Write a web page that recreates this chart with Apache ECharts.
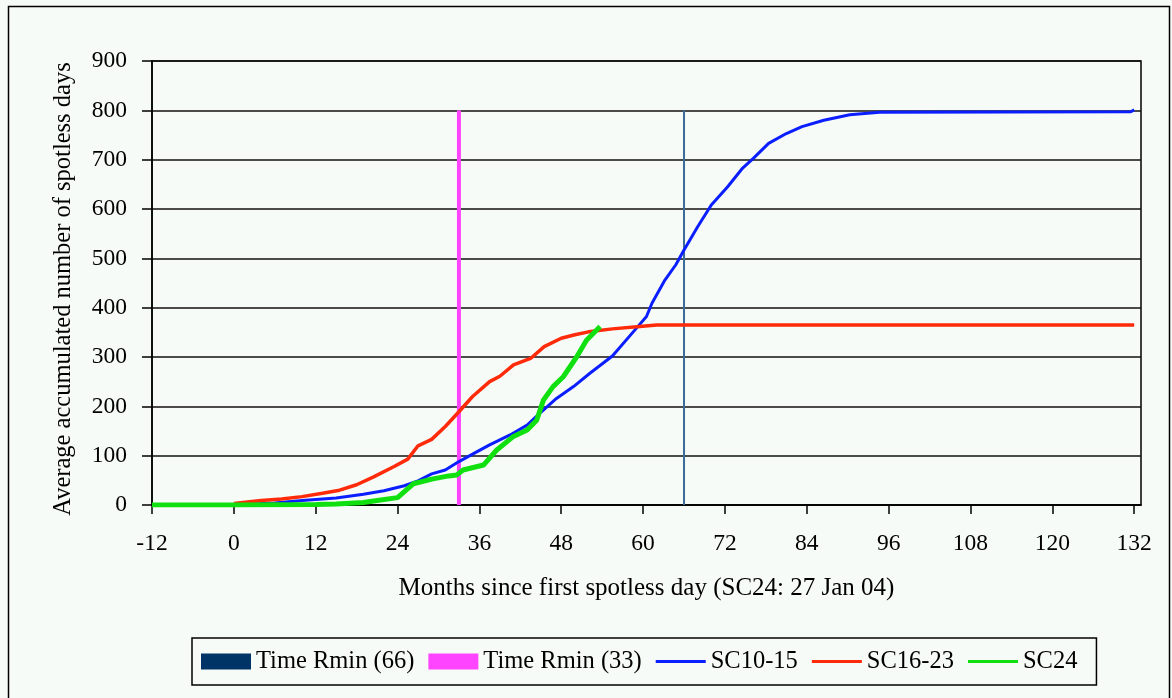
<!DOCTYPE html>
<html>
<head>
<meta charset="utf-8">
<script src="https://cdn.jsdelivr.net/npm/echarts@6/dist/echarts.min.js"></script>
<style>
html,body{margin:0;padding:0;background:#f7fbf7;}
#chart{width:1172px;height:698px;}
</style>
</head>
<body>
<div id="chart"></div>
<script>
// ---- data ----
const xTicks = [-12, 0, 12, 24, 36, 48, 60, 72, 84, 96, 108, 120, 132];

const sc1015Months = [-12, 0, 6, 10, 15, 19, 22, 25, 27, 29, 31, 33, 35, 37.5, 40.5, 43, 45, 47.3, 49.8, 52.2, 55.5, 59, 60.5, 61.3, 63.2, 64.8, 66, 68, 70, 72.4, 74.6, 76.2, 78.4, 81, 83.3, 86.5, 90.3, 94.7, 131.5, 132];
const sc1015Values = [0, 1, 4, 9, 14, 22, 29, 39, 49, 63, 71, 88, 103, 122, 142, 162, 188, 216, 240, 267, 302, 358, 382, 409, 456, 487, 517, 564, 608, 645, 683, 703, 733, 753, 767, 780, 791, 796, 797, 801];

const sc1623Months = [0, 4, 7, 10, 13, 15.5, 18, 20.5, 23.5, 25.5, 27, 29, 31, 33, 35, 37.5, 39, 41, 43.5, 45.5, 48, 50, 52, 55.5, 59.5, 62, 132];
const sc1623Values = [3, 9, 12, 17, 24, 30, 41, 57, 78, 93, 120, 133, 159, 189, 220, 250, 261, 284, 297, 321, 338, 345, 351, 357, 362, 365, 365];

const sc24Months = [-12, 0, 12, 15, 19, 21, 24, 26.3, 29.2, 31.5, 32.7, 33.6, 36.6, 38.5, 41, 43, 44.4, 45.4, 46.8, 48.3, 50.3, 51.7, 53.7];
const sc24Values = [0, 0, 1, 2, 5, 9, 15, 43, 53, 59, 61, 71, 81, 111, 139, 152, 172, 213, 240, 260, 301, 334, 362];

const rmin66Month = 66;
const rmin33Month = 33;
const rminTop = 800;

const seriesNames = ['Time Rmin (66)', 'Time Rmin (33)', 'SC10-15', 'SC16-23', 'SC24'];

// ---- build ----
const zip = (xs, ys) => xs.map((x, i) => [x, ys[i]]);
const FONT = "'Liberation Serif','Times New Roman',serif";
// legend icon: a thin horizontal bar centred in a 50x16 box (degenerate subpaths fix the box)
const LINE_ICON = 'path://M0,0L0.01,0L0.01,0.01ZM0,6.5L50,6.5L50,9.5L0,9.5ZM0,16L0.01,16L0.01,15.99Z';
const chart = echarts.init(document.getElementById('chart'), null, {renderer: 'canvas'});

chart.setOption({
  animation: false,
  backgroundColor: '#f7fbf7',
  textStyle: {fontFamily: FONT, color: '#000'},
  graphic: [{
    type: 'rect', silent: true, z: -1,
    shape: {x: 8.5, y: 6.5, width: 1161, height: 720},
    style: {fill: 'none', stroke: '#000', lineWidth: 1.5}
  }],
  grid: {
    left: 152, top: 61, right: 31, bottom: 193,
    show: true, borderColor: '#000', borderWidth: 1.5, backgroundColor: 'transparent'
  },
  xAxis: {
    type: 'value', min: -12, max: 133,
    name: 'Months since first spotless day (SC24: 27 Jan 04)',
    nameLocation: 'middle', nameGap: 71,
    nameTextStyle: {fontFamily: FONT, fontSize: 25, color: '#000'},
    axisLine: {show: true, onZero: false, lineStyle: {color: '#000', width: 1.5}},
    axisTick: {show: true, length: 9, customValues: xTicks, lineStyle: {color: '#000', width: 1.5}},
    axisLabel: {customValues: xTicks, margin: 27, fontFamily: FONT, fontSize: 23.5, color: '#000'},
    splitLine: {show: false}
  },
  yAxis: {
    type: 'value', min: 0, max: 900, interval: 100,
    name: 'Average accumulated number of spotless days',
    nameLocation: 'middle', nameGap: 76, nameRotate: 90,
    nameTextStyle: {fontFamily: FONT, fontSize: 24.5, color: '#000', padding: [0, 12, 0, 0]},
    axisLine: {show: true, onZero: false, lineStyle: {color: '#000', width: 1.5}},
    axisTick: {show: true, length: 10, lineStyle: {color: '#000', width: 1.5}},
    axisLabel: {margin: 25, fontFamily: FONT, fontSize: 23.5, color: '#000'},
    splitLine: {show: true, lineStyle: {color: '#111', width: 1.5}}
  },
  legend: {
    left: 192, top: 638,
    padding: [11, 19, 11, 9],
    itemGap: 14, itemWidth: 50, itemHeight: 16,
    borderColor: '#000', borderWidth: 1.5, backgroundColor: '#f7fbf7',
    textStyle: {fontFamily: FONT, fontSize: 24.5, color: '#000'},
    data: [
      {name: seriesNames[0], icon: 'rect'},
      {name: seriesNames[1], icon: 'rect'},
      {name: seriesNames[2], icon: LINE_ICON},
      {name: seriesNames[3], icon: LINE_ICON},
      {name: seriesNames[4], icon: LINE_ICON}
    ]
  },
  series: [
    {
      name: seriesNames[0], type: 'line', symbol: 'none',
      data: [[rmin66Month, 0], [rmin66Month, rminTop]],
      itemStyle: {color: '#003366'},
      lineStyle: {color: '#3b6b99', width: 2}
    },
    {
      name: seriesNames[1], type: 'line', symbol: 'none',
      data: [[rmin33Month, 0], [rmin33Month, rminTop]],
      itemStyle: {color: '#ff44ff'},
      lineStyle: {color: '#ff44ff', width: 4}
    },
    {
      name: seriesNames[2], type: 'line', symbol: 'none',
      data: zip(sc1015Months, sc1015Values),
      itemStyle: {color: '#0a1eff'},
      lineStyle: {color: '#0a1eff', width: 3}
    },
    {
      name: seriesNames[3], type: 'line', symbol: 'none',
      data: zip(sc1623Months, sc1623Values),
      itemStyle: {color: '#ff2a0a'},
      lineStyle: {color: '#ff2a0a', width: 3.5}
    },
    {
      name: seriesNames[4], type: 'line', symbol: 'none',
      data: zip(sc24Months, sc24Values),
      itemStyle: {color: '#10e010'},
      lineStyle: {color: '#10e010', width: 5}
    }
  ]
});
</script>
</body>
</html>
